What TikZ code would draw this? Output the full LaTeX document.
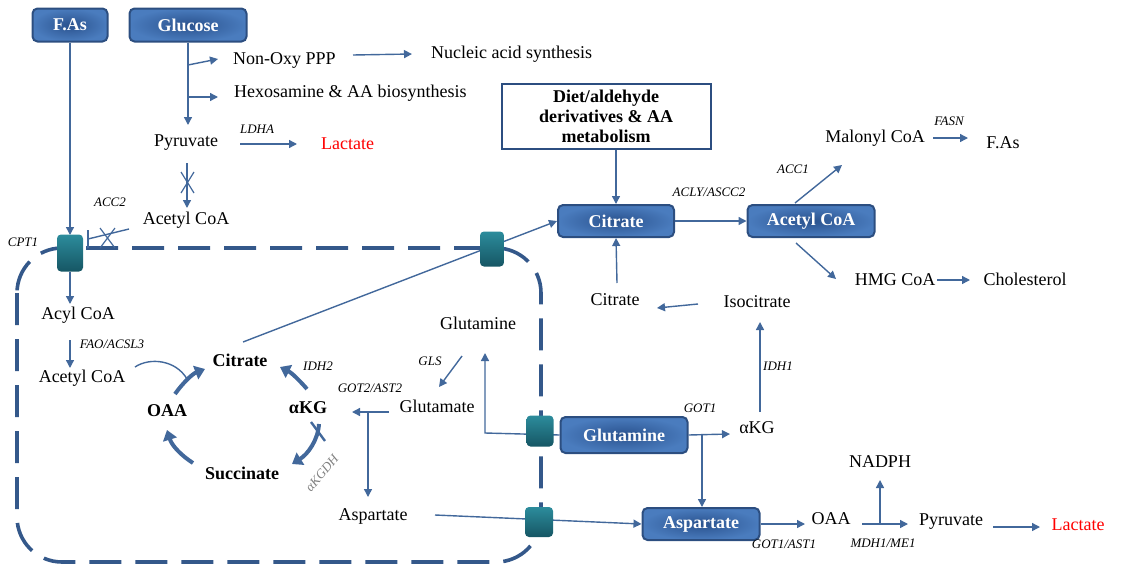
\documentclass[tikz,border=0pt]{standalone}
\usepackage{fontspec}
\setmainfont{Liberation Serif}
\usetikzlibrary{arrows.meta,calc}
\definecolor{ln}{RGB}{66,104,155}
\definecolor{boxin}{RGB}{42,82,142}
\definecolor{boxout}{RGB}{74,124,190}
\definecolor{boxdraw}{RGB}{44,78,128}
\definecolor{tealA}{RGB}{44,140,156}
\definecolor{tealB}{RGB}{22,86,100}
\definecolor{memb}{RGB}{52,88,138}
\tikzset{
 ar/.style={draw=ln, line width=1.4pt, -{Triangle[length=8pt,width=8pt]}},
 plain/.style={draw=ln, line width=1.4pt},
 tca/.style={draw=ln, line width=4pt, -{Triangle[length=10pt,width=14pt]}},
 bluebox/.style={rounded corners=5pt, draw=boxdraw, line width=2pt, inner color=boxin, outer color=boxout, text=white, font=\bfseries\fontsize{18}{20}\selectfont, inner sep=0pt},
 trans/.style={rounded corners=4pt, top color=tealA, bottom color=tealB, draw=none, inner sep=0pt},
 txt/.style={font=\fontsize{18}{20}\selectfont, inner sep=1pt},
 btxt/.style={font=\bfseries\fontsize{18}{20}\selectfont, inner sep=1pt},
 enz/.style={font=\itshape\fontsize{13}{15}\selectfont, inner sep=0pt},
}
\begin{document}
\begin{tikzpicture}[x=1pt,y=-1pt]
\useasboundingbox (0,0) rectangle (1121,570);
% membrane
\draw[memb, line width=3.6pt, dash pattern=on 32pt off 14pt, rounded corners=45pt] (17,248) rectangle (541,562);

% ---------- nodes ----------
\node[bluebox, minimum width=75pt, minimum height=33pt] (fas) at (70,25) {F.As};
\node[bluebox, minimum width=117pt, minimum height=33pt] (glc) at (188,25) {Glucose};
\node[txt, anchor=west] (nox) at (232,60) {Non-Oxy PPP};
\node[txt, anchor=west] (nuc) at (430,54) {Nucleic acid synthesis};
\node[txt, anchor=west] (hex) at (233,93) {Hexosamine \& AA biosynthesis};
\node[txt] (pyr1) at (186,143) {Pyruvate};
\node[txt, text=red, anchor=west] (lac1) at (320,144) {Lactate};
\node[enz] (ldha) at (257,129) {LDHA};
\node[txt] (acoa1) at (186,220) {Acetyl CoA};
\node[enz] (acc2) at (110,202) {ACC2};
\node[enz] (cpt1) at (23,242) {CPT1};

\node[txt] (acyl) at (78,315) {Acyl CoA};
\node[enz] (fao) at (112,344) {FAO/ACSL3};
\node[txt] (acoa2) at (82,378) {Acetyl CoA};
\node[btxt] (cit1) at (240,360) {Citrate};
\node[btxt] (oaa1) at (167,411) {OAA};
\node[btxt] (akg1) at (308,408) {αKG};
\node[btxt] (suc) at (242,473) {Succinate};
\node[enz] (idh2) at (318,366) {IDH2};
\node[enz, text=gray, rotate=50] (akgdh) at (322,473) {αKGDH};
\node[txt] (gln1) at (478,323) {Glutamine};
\node[enz] (gls) at (430,361) {GLS};
\node[txt] (glu) at (437,406) {Glutamate};
\node[enz] (got2) at (370,388) {GOT2/AST2};
\node[txt] (asp1) at (373,516) {Aspartate};

\node[draw=boxdraw, line width=2pt, fill=white, minimum width=209pt, minimum height=65pt, align=center, inner sep=0pt, font=\bfseries\fontsize{18}{20}\selectfont] (diet) at (606,116) {Diet/aldehyde\\derivatives \& AA\\metabolism};
\node[bluebox, minimum width=116pt, minimum height=32pt] (cit2) at (616,221) {Citrate};
\node[bluebox, minimum width=127pt, minimum height=32pt] (acoa3) at (811,221) {Acetyl CoA};
\node[enz] (acly) at (709,192) {ACLY/ASCC2};
\node[enz] (acc1) at (793,169) {ACC1};
\node[txt] (mal) at (875,138) {Malonyl CoA};
\node[enz] (fasn) at (949,121) {FASN};
\node[txt] (fas2) at (1003,143) {F.As};
\node[txt] (hmg) at (895,280) {HMG CoA};
\node[txt] (chol) at (1025,279) {Cholesterol};
\node[txt] (cit3) at (615,300) {Citrate};
\node[txt] (iso) at (757,302) {Isocitrate};
\node[enz] (idh1) at (778,366) {IDH1};
\node[bluebox, minimum width=127pt, minimum height=36pt] (gln2) at (624,435) {Glutamine};
\node[enz] (got1) at (700,408) {GOT1};
\node[txt] (akg2) at (757,428) {αKG};
\node[bluebox, minimum width=117pt, minimum height=32pt] (asp2) at (701,524) {Aspartate};
\node[enz] (got1b) at (784,544) {GOT1/AST1};
\node[txt] (oaa2) at (831,519) {OAA};
\node[txt] (nadph) at (880,462) {NADPH};
\node[enz] (mdh) at (883,543) {MDH1/ME1};
\node[txt] (pyr2) at (951,522) {Pyruvate};
\node[txt, text=red] (lac2) at (1078,525) {Lactate};

% ---------- coordinates ----------
\coordinate (g1) at (188,65);
\coordinate (g1e) at (218,59);
\coordinate (g2) at (188,97);
\coordinate (g2e) at (218,97);
\coordinate (pyrtip) at (188,125);
\coordinate (nox1) at (353,55);
\coordinate (nuc1) at (412,54);
\coordinate (l1a) at (240,144);
\coordinate (l1b) at (297,144);
\coordinate (pa) at (187,163);
\coordinate (pb) at (187,208);
\coordinate (ia) at (129,229);
\coordinate (ib) at (88,239);
\coordinate (acyltip) at (70,304);
\coordinate (ac2a) at (70,340);
\coordinate (ac2b) at (70,368);
\coordinate (cu1) at (135,367);
\coordinate (cu2) at (187,379);
\coordinate (ca) at (243,342);
\coordinate (glsA) at (462,356);
\coordinate (glsB) at (439,387);
\coordinate (gluA) at (389,412);
\coordinate (gluB) at (352,412);
\coordinate (gluC) at (368,412);
\coordinate (aspTip) at (368,497);
\coordinate (aspA) at (435,515);
\coordinate (glnTip) at (485,353);
\coordinate (glnK) at (485,433);
\coordinate (akgTip) at (730,434);
\coordinate (brG) at (702,434);
\coordinate (idhA) at (760,412);
\coordinate (idhB) at (760,322);
\coordinate (isoA) at (698,304);
\coordinate (isoB) at (657,308);
\coordinate (c3a) at (617,283);
\coordinate (malA) at (795,203);
\coordinate (malB) at (842,165);
\coordinate (fA) at (933,138);
\coordinate (fB) at (968,138);
\coordinate (hA) at (796,243);
\coordinate (hB) at (836,279);
\coordinate (chA) at (937,280);
\coordinate (chB) at (970,280);
\coordinate (oaaTip) at (805,524);
\coordinate (oA) at (862,524);
\coordinate (oB) at (908,524);
\coordinate (oC) at (880,524);
\coordinate (nadTip) at (880,480);
\coordinate (lA) at (993,527);
\coordinate (lB) at (1040,527);

% ---------- connectors ----------
\draw[ar] (fas.south) -- (fas.south |- 0,235);
\draw[ar] (glc.south) -- (pyrtip);
\draw[ar] (g1) -- (g1e);
\draw[ar] (g2) -- (g2e);
\draw[ar] (nox1) -- (nuc1);
\draw[ar] (l1a) -- (l1b);
\draw[ar] (pa) -- (pb);
\draw[plain, line width=1.2pt] (181,172) -- (194,193) (194,172) -- (181,193);
% ACC2 inhibition
\draw[plain] (ia) -- (ib);
\draw[plain] (88,230) -- (88,248);
\draw[plain, line width=1.2pt] (100,228) -- (115,248) (115,228) -- (100,248);
% inside mitochondrion
\draw[ar] (70,272) -- (acyltip);
\draw[ar] (ac2a) -- (ac2b);
\draw[plain] (cu1) .. controls (150,357) and (176,360) .. (cu2);
\draw[tca] (175,394) .. controls (182,384) and (192,374) .. (205,369);
\draw[tca] (307,389) .. controls (300,381) and (292,373) .. (280,367);
\draw[tca] (319,424) .. controls (318,440) and (308,454) .. (292,464);
\draw[tca] (193,463) .. controls (182,456) and (172,446) .. (167,430);
\draw[plain, line width=2.4pt] (311,422) -- (325,441);
\draw[ar] (ca) -- (cit2.west);
\draw[ar] (glsA) -- (glsB);
\draw[ar] (gluA) -- (gluB);
\draw[ar] (gluC) -- (aspTip);
\draw[ar] (gln2.west) -- (glnK) -- (glnTip);
\draw[ar] (aspA) -- (asp2.west);
% cytosol right
\draw[ar] (diet.south -| cit2.north) -- (cit2.north);
\draw[ar] (cit2.east) -- (acoa3.west);
\draw[ar] (malA) -- (malB);
\draw[ar] (fA) -- (fB);
\draw[ar] (hA) -- (hB);
\draw[ar] (chA) -- (chB);
\draw[ar] (c3a) -- (cit2.south);
\draw[ar] (isoA) -- (isoB);
\draw[ar] (idhA) -- (idhB);
\draw[ar] (gln2.east) -- (akgTip);
\draw[ar] (brG) -- (brG |- asp2.north);
\draw[ar] (asp2.east) -- (oaaTip);
\draw[ar] (oA) -- (oB);
\draw[ar] (oC) -- (nadTip);
\draw[ar] (lA) -- (lB);

% transporters on top
\node[trans, minimum width=26pt, minimum height=37pt] (t1) at (70,253) {};
\node[trans, minimum width=24pt, minimum height=35pt] (t2) at (492,249) {};
\node[trans, minimum width=27pt, minimum height=31pt] (t3) at (540,431) {};
\node[trans, minimum width=28pt, minimum height=30pt] (t4) at (539,522) {};
\end{tikzpicture}
\end{document}
